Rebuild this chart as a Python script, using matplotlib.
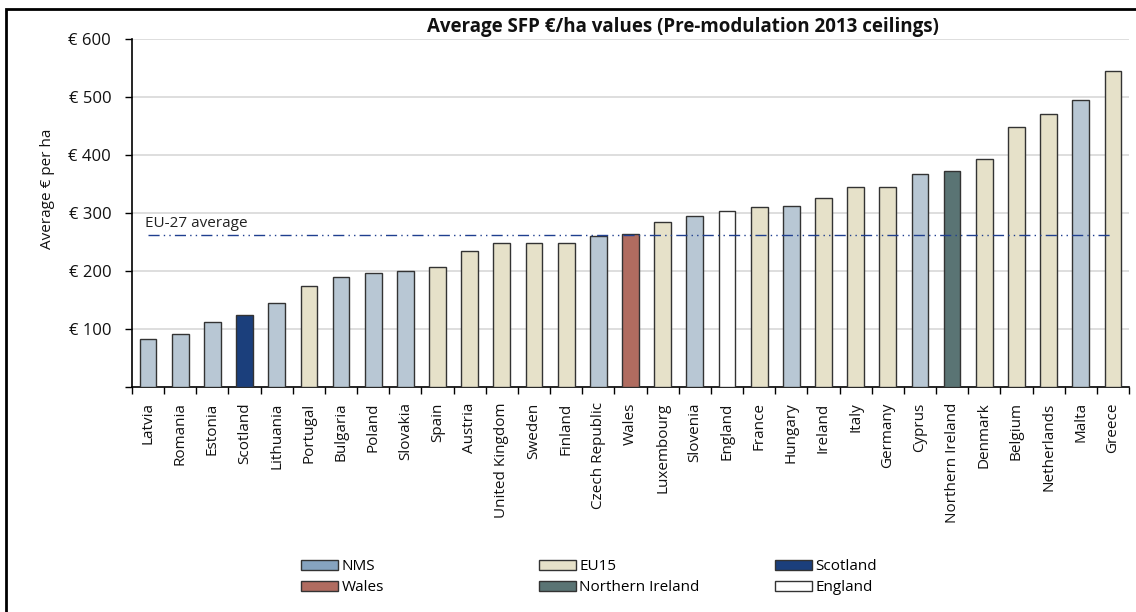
import matplotlib.pyplot as plt
import matplotlib.patches as mpatches
import numpy as np

plt.rcParams['font.family'] = ['Open Sans', 'DejaVu Sans']

countries = ["Latvia", "Romania", "Estonia", "Scotland", "Lithuania", "Portugal",
             "Bulgaria", "Poland", "Slovakia", "Spain", "Austria", "United Kingdom",
             "Sweden", "Finland", "Czech Republic", "Wales", "Luxembourg", "Slovenia",
             "England", "France", "Hungary", "Ireland", "Italy", "Germany", "Cyprus",
             "Northern Ireland", "Denmark", "Belgium", "Netherlands", "Malta", "Greece"]
values = [83, 92, 112, 125, 144, 174, 190, 196, 200, 207, 235, 248,
          248, 248, 260, 264, 285, 295, 303, 310, 312, 325, 344, 345, 367,
          373, 393, 448, 470, 495, 545]
groups = ["NMS", "NMS", "NMS", "Scotland", "NMS", "EU15",
          "NMS", "NMS", "NMS", "EU15", "EU15", "EU15",
          "EU15", "EU15", "NMS", "Wales", "EU15", "NMS",
          "England", "EU15", "NMS", "EU15", "EU15", "EU15", "NMS",
          "Northern Ireland", "EU15", "EU15", "EU15", "NMS", "EU15"]
eu_avg = 262

colors = {"NMS": "#b8c7d4", "EU15": "#e6e1c9", "Scotland": "#1b3f7c",
          "Wales": "#b06c60", "Northern Ireland": "#5a7474", "England": "#ffffff"}
legend_colors = dict(colors, NMS="#86a3bf")

fig = plt.figure(figsize=(11.36, 6.12), dpi=100)
ax = fig.add_axes([132/1136, 1 - 387/612, 997/1136, 348/612])

x = np.arange(len(countries))
ax.bar(x, values, width=0.52, color=[colors[g] for g in groups],
       edgecolor="#333333", linewidth=1, zorder=3)

ax.plot([x[0], x[-1]], [eu_avg, eu_avg], color="#1f3f8f", linewidth=1,
        linestyle=(0, (8, 3, 1, 3, 1, 3)), zorder=4)
ax.text(-0.1, eu_avg + 7, "EU-27 average", fontsize=11, color="#222222", va="bottom")

ax.set_xlim(-0.5, len(countries) - 0.5)
ax.set_ylim(0, 600)
ax.set_yticks(range(100, 700, 100))
ax.set_yticklabels([f"€ {v}" for v in range(100, 700, 100)], fontsize=12, color="#111111")
ax.set_yticks([0], minor=True)
ax.yaxis.grid(True, color="#d8d8d8", linewidth=1.2, zorder=0)

ax.set_xticks(np.arange(-0.5, len(countries), 1))
ax.set_xticklabels([])
ax.set_xticks(x, minor=True)
ax.set_xticklabels(countries, minor=True, rotation=90, fontsize=11, color="#111111")
ax.tick_params(axis="x", which="minor", length=0, pad=11)
ax.tick_params(axis="x", which="major", length=5, width=1)
ax.tick_params(axis="y", which="both", length=5, width=1, pad=10)

for s in ["top", "right"]:
    ax.spines[s].set_visible(False)
ax.spines["left"].set_linewidth(1.2)
ax.spines["bottom"].set_linewidth(1.2)

ax.set_ylabel("Average € per ha", fontsize=11, color="#111111")
ax.yaxis.set_label_coords(-0.077, 0.57)

fig.text(683/1136, 1 - 27/612, "Average SFP €/ha values (Pre-modulation 2013 ceilings)",
         ha="center", va="center", fontsize=13.5, fontweight="bold", color="#111111")

# legend, three columns
cols = [["NMS", "Wales"], ["EU15", "Northern Ireland"], ["Scotland", "England"]]
col_x = [301/1136, 539/1136, 775/1136]
for names, cx in zip(cols, col_x):
    handles = [mpatches.Patch(facecolor=legend_colors[n], edgecolor="#333333",
                              linewidth=1, label=n) for n in names]
    fig.legend(handles=handles, loc="upper left", bbox_to_anchor=(cx, 1 - 559/612),
               frameon=False, fontsize=11, handlelength=2.4, handleheight=0.65,
               handletextpad=0.25, labelspacing=0.4, borderpad=0, borderaxespad=0)

# outer frame of the figure
fig.patches.append(mpatches.Rectangle((6/1136, -0.1), 1.1, 1 - 9/612 + 0.1,
                                      transform=fig.transFigure, fill=False,
                                      edgecolor="black", linewidth=2))

fig.savefig("out.png", dpi=100)
